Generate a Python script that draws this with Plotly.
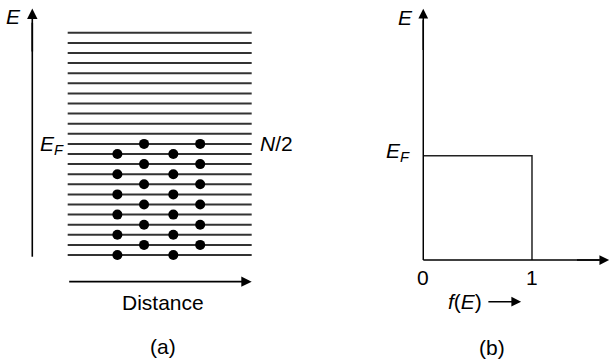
import plotly.graph_objects as go

# ---------------- data ----------------
# panel (a): energy levels (index from bottom), distance along the crystal 0..10
level_index = list(range(23))
fermi_level = 11
line_start, line_end = 0, 10
# occupied states: (distance, level)
dot_distance = [2.7, 5.74, 4.15, 7.2, 2.7, 5.74, 4.15, 7.2, 2.7, 5.74, 4.15, 7.2,
                2.7, 5.74, 4.15, 7.2, 2.7, 5.74, 4.15, 7.2, 2.7, 5.74, 4.15, 7.2]
dot_level = [0, 0, 1, 1, 2, 2, 3, 3, 4, 4, 5, 5,
             6, 6, 7, 7, 8, 8, 9, 9, 10, 10, 11, 11]

# panel (b): Fermi function at T = 0 K
f_values = [1, 1, 0]
e_values = [0, 1, 1]   # E in units of E_F
f_ticks = [0, 1]
f_tick_labels = ["0", "1"]

FONT = "Liberation Sans, Arial, sans-serif"
FS = 21

fig = go.Figure()

# energy level lines
lx, ly = [], []
for lv in level_index:
    lx += [line_start, line_end, None]
    ly += [lv, lv, None]
fig.add_trace(go.Scatter(x=lx, y=ly, mode="lines", line=dict(color="#333", width=2),
                         xaxis="x", yaxis="y", hoverinfo="skip"))
fig.add_trace(go.Scatter(x=dot_distance, y=dot_level, mode="markers",
                         marker=dict(color="black", size=10), xaxis="x", yaxis="y"))

# vertical E axis line of panel a
fig.add_trace(go.Scatter(x=[-1.924, -1.924], y=[-0.17, 23.0], mode="lines",
                         line=dict(color="black", width=1.6), xaxis="x", yaxis="y"))

# Fermi function box
fig.add_trace(go.Scatter(x=f_values, y=e_values, mode="lines",
                         line=dict(color="#222", width=1.5), xaxis="x2", yaxis="y2"))
fig.add_trace(go.Scatter(x=[0, 0], y=[0, 2.3], mode="lines",
                         line=dict(color="black", width=1.5), xaxis="x2", yaxis="y2"))
fig.add_trace(go.Scatter(x=[0, 1.62], y=[0, 0], mode="lines",
                         line=dict(color="black", width=1.5), xaxis="x2", yaxis="y2"))

ann = []


def arrow(x, y, ax, ay, xr, yr, w=1.6):
    ann.append(dict(x=x, y=y, ax=ax, ay=ay, xref=xr, yref=yr, axref=xr, ayref=yr,
                    showarrow=True, arrowhead=2, arrowsize=1.3, arrowwidth=w,
                    arrowcolor="black", text=""))


def label(x, y, t, xr, yr, xanchor="center"):
    ann.append(dict(x=x, y=y, xref=xr, yref=yr, text=t, showarrow=False,
                    xanchor=xanchor, yanchor="middle",
                    font=dict(family=FONT, size=FS, color="black")))


# panel a arrows
arrow(-1.924, 24.4, -1.924, 20, "x", "y")
arrow(10, -2.64, 0, -2.64, "x", "y")
# panel b arrows
arrow(0, 2.41, 0, 2.0, "x2", "y2", 1.5)
arrow(1.71, 0, 1.4, 0, "x2", "y2", 1.5)
arrow(0.9, -0.40, 0.585, -0.40, "x2", "y2", 1.5)

# labels panel a
label(-2.97, 23.6, "<i>E</i>", "x", "y")
label(-0.1, 10.85, "<i>E</i><sub><i>F</i></sub>", "x", "y", "right")
label(10.35, 11.05, "<i>N</i>/2", "x", "y", "left")
label(5.18, -4.75, "Distance", "x", "y")
label(5.18, -9.08, "(a)", "x", "y")
# labels panel b
label(-0.168, 2.33, "<i>E</i>", "x2", "y2")
label(-0.233, 1.04, "<i>E</i><sub><i>F</i></sub>", "x2", "y2")
for t, tl in zip(f_ticks, f_tick_labels):
    label(t, -0.165, tl, "x2", "y2")
label(0.383, -0.40, "<i>f</i>(<i>E</i>)", "x2", "y2")
label(0.63, -0.835, "(b)", "x2", "y2")

ax_common = dict(visible=False, showgrid=False, zeroline=False, fixedrange=True)
fig.update_layout(
    width=610, height=362, margin=dict(l=0, r=0, t=0, b=0),
    paper_bgcolor="white", plot_bgcolor="white", showlegend=False,
    xaxis=dict(domain=[0, 0.5], range=[-3.679, 12.897], **ax_common),
    yaxis=dict(domain=[0, 1], range=[-10.594, 25.248], **ax_common),
    xaxis2=dict(domain=[0.5, 1], range=[-1.088, 1.7176], anchor="y2", **ax_common),
    yaxis2=dict(domain=[0, 1], range=[-0.978, 2.493], anchor="x2", **ax_common),
    annotations=ann,
)
fig.write_html("out.html", config={"displayModeBar": False},
               post_script="document.body.style.margin='0';document.body.style.overflow='hidden';")
